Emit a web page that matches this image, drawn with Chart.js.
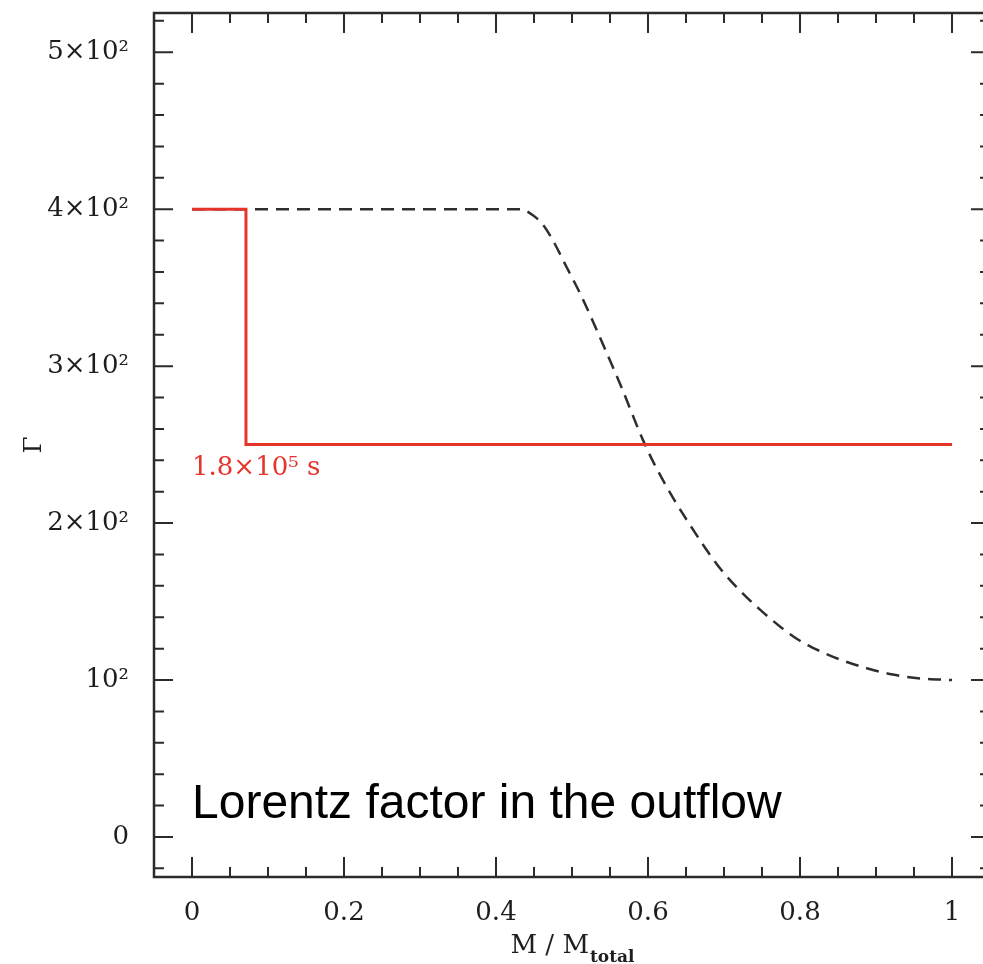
<!DOCTYPE html>
<html>
<head>
<meta charset="utf-8">
<script src="https://cdn.jsdelivr.net/npm/chart.js@4.4.1/dist/chart.umd.min.js"></script>
<style>
  html, body { margin: 0; padding: 0; background: #fff; overflow: hidden; }
  #wrap { width: 1000px; height: 964px; }
</style>
</head>
<body>
<div id="wrap"><canvas id="chart" width="1000" height="964"></canvas></div>
<script>
// Lorentz factor profile
const massFrac = [0, 0.1, 0.2, 0.3, 0.4, 0.432, 0.449, 0.462, 0.475, 0.493, 0.511, 0.528, 0.546,
                  0.563, 0.596, 0.620, 0.651, 0.695, 0.721, 0.747, 0.774, 0.800, 0.826, 0.853,
                  0.888, 0.922, 0.958, 1.0];
const gammaInit = [400, 400, 400, 400, 400, 400, 396, 390, 380, 363, 346, 328, 308,
                   289, 250, 227, 202, 171, 157, 145, 134, 125, 118.5, 113,
                   107.5, 103.5, 101, 100];

// profile at t = 1.8e5 s (red)
const massLate = [0, 0.071, 0.071, 1.0];
const gammaLate = [400, 400, 250, 250];

const xMajorTicks = [0, 0.2, 0.4, 0.6, 0.8, 1];
const xTickLabels = ['0', '0.2', '0.4', '0.6', '0.8', '1'];
const yMajorTicks = [0, 100, 200, 300, 400, 500];
const yTickLabels = ['0', '10²', '2×10²', '3×10²', '4×10²', '5×10²'];

const RED = 'rgb(229, 52, 42)';
const INK = '#1e1e1e';
const SERIF = '"DejaVu Serif", serif';

const toPoints = (xs, ys) => xs.map((x, i) => ({ x, y: ys[i] }));

function labelFor(value, majors, labels) {
    const i = majors.findIndex(m => Math.abs(m - value) < 1e-6);
    return i >= 0 ? labels[i] : '';
}

// inward tick marks on all four sides plus the box
const frameTicks = {
    id: 'frameTicks',
    afterDraw(chart) {
        const { ctx, chartArea: a, scales } = chart;
        const xs = scales.x, ys = scales.y;
        ctx.save();
        ctx.strokeStyle = '#2b2b2b';
        ctx.lineWidth = 2;
        ctx.beginPath();
        xs.ticks.forEach(t => {
            const px = xs.getPixelForValue(t.value);
            const len = t.label ? 20 : 10;
            ctx.moveTo(px, a.bottom); ctx.lineTo(px, a.bottom - len);
            ctx.moveTo(px, a.top); ctx.lineTo(px, a.top + len);
        });
        ys.ticks.forEach(t => {
            const py = ys.getPixelForValue(t.value);
            const len = t.label ? 19 : 10;
            ctx.moveTo(a.left, py); ctx.lineTo(a.left + len, py);
            ctx.moveTo(a.right, py); ctx.lineTo(a.right - len, py);
        });
        ctx.stroke();
        ctx.lineWidth = 2.5;
        ctx.strokeRect(a.left, a.top, a.right - a.left, a.bottom - a.top);

        // x axis title with subscript
        ctx.fillStyle = INK;
        ctx.textBaseline = 'alphabetic';
        const main = 'M / M';
        ctx.font = 'bold 17px ' + SERIF;
        const subW = ctx.measureText('total').width;
        ctx.font = '26px ' + SERIF;
        const mainW = ctx.measureText(main).width;
        const cx = (a.left + a.right) / 2;
        const x0 = cx - (mainW + subW) / 2;
        ctx.fillText(main, x0, a.bottom + 76);
        ctx.font = 'bold 17px ' + SERIF;
        ctx.fillText('total', x0 + mainW + 1, a.bottom + 85);

        // annotations
        ctx.fillStyle = RED;
        ctx.font = '26px ' + SERIF;
        ctx.textBaseline = 'middle';
        ctx.fillText('1.8×10⁵ s', xs.getPixelForValue(0), ys.getPixelForValue(250) + 24);

        ctx.fillStyle = '#000';
        ctx.font = '48px "Liberation Sans", Arial, sans-serif';
        ctx.textBaseline = 'alphabetic';
        ctx.fillText('Lorentz factor in the outflow', xs.getPixelForValue(0), ys.getPixelForValue(0) - 19);
        ctx.restore();
    }
};

new Chart(document.getElementById('chart'), {
    type: 'line',
    data: {
        datasets: [
            {
                data: toPoints(massFrac, gammaInit),
                borderColor: '#2e2e2e',
                borderWidth: 2.5,
                borderDash: [13, 8],
                pointRadius: 0,
                cubicInterpolationMode: 'monotone',
                order: 2
            },
            {
                data: toPoints(massLate, gammaLate),
                borderColor: RED,
                borderWidth: 3,
                pointRadius: 0,
                tension: 0,
                order: 1
            }
        ]
    },
    options: {
        responsive: false,
        animation: false,
        layout: { padding: { top: 13, right: 10, left: 0, bottom: 0 } },
        plugins: { legend: { display: false }, tooltip: { enabled: false } },
        scales: {
            x: {
                type: 'linear',
                min: -0.05,
                max: 1.05,
                grid: { display: false },
                border: { display: false },
                afterBuildTicks(scale) {
                    const t = [];
                    for (let i = -1; i <= 21; i++) t.push({ value: Math.round(i * 5) / 100 });
                    scale.ticks = t;
                },
                afterFit(scale) {
                    scale.height = 87;
                    scale.paddingLeft = 0;
                    scale.paddingRight = 0;
                },
                ticks: {
                    autoSkip: false,
                    maxRotation: 0,
                    padding: 13,
                    color: INK,
                    font: { family: SERIF, size: 26 },
                    callback: v => labelFor(v, xMajorTicks, xTickLabels)
                }
            },
            y: {
                type: 'linear',
                min: -25.5,
                max: 525,
                grid: { display: false },
                border: { display: false },
                afterBuildTicks(scale) {
                    const t = [];
                    for (let v = -20; v <= 520; v += 20) t.push({ value: v });
                    scale.ticks = t;
                },
                afterFit(scale) {
                    scale.width = 154;
                    scale.paddingTop = 0;
                    scale.paddingBottom = 0;
                },
                title: {
                    display: true,
                    text: 'Γ',
                    color: INK,
                    font: { family: SERIF, size: 24 },
                    padding: { top: 20, bottom: 0 }
                },
                ticks: {
                    autoSkip: false,
                    padding: 17,
                    color: INK,
                    font: { family: SERIF, size: 26 },
                    callback: v => labelFor(v, yMajorTicks, yTickLabels)
                }
            }
        }
    },
    plugins: [frameTicks]
});
</script>
</body>
</html>
